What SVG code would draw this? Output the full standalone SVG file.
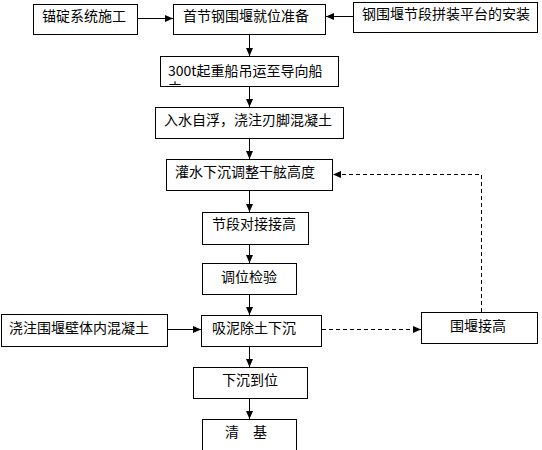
<svg xmlns="http://www.w3.org/2000/svg" width="542" height="450" viewBox="0 0 542 450">
<style>
.box{fill:#fff;stroke:#000;stroke-width:1}
.t{font-family:"Noto Sans CJK SC","Liberation Sans",sans-serif;font-size:14px;fill:#000}
.c{stroke:#000;stroke-width:1;fill:none}
.d{stroke:#000;stroke-width:1;fill:none;stroke-dasharray:4,3}
</style>
<defs>
<marker id="ah" viewBox="0 0 8 8" refX="8" refY="4" markerWidth="8" markerHeight="8" markerUnits="userSpaceOnUse" orient="auto">
<path d="M0,0.5 L8,4 L0,7.5 Z" fill="#000"/>
</marker>
<clipPath id="clip300"><rect x="160" y="56" width="178" height="29"/></clipPath>
</defs>
<rect width="542" height="450" fill="#fff"/>
<g id="n1"><rect class="box" x="33.5" y="4.5" width="104" height="30"/><text class="t" x="42" y="21">锚碇系统施工</text></g>
<g id="n2"><rect class="box" x="173.5" y="4.5" width="152" height="30"/><text class="t" x="183" y="21">首节钢围堰就位准备</text></g>
<g id="n3"><rect class="box" x="353.5" y="2.5" width="184" height="30"/><text class="t" x="362" y="19">钢围堰节段拼装平台的安装</text></g>
<g id="n4"><rect class="box" x="160.5" y="56.5" width="178" height="30"/><g clip-path="url(#clip300)"><text class="t" x="168" y="76">300t起重船吊运至导向船</text><text class="t" x="168" y="93">内</text></g></g>
<g id="n5"><rect class="box" x="155.5" y="107.5" width="188" height="31"/><text class="t" x="164" y="125">入水自浮，浇注刃脚混凝土</text></g>
<g id="n6"><rect class="box" x="166.5" y="159.5" width="166" height="31"/><text class="t" x="175" y="177">灌水下沉调整干舷高度</text></g>
<g id="n7"><rect class="box" x="202.5" y="212.5" width="106" height="32"/><text class="t" x="212" y="229">节段对接接高</text></g>
<g id="n8"><rect class="box" x="202.5" y="263.5" width="94" height="31"/><text class="t" x="221" y="282">调位检验</text></g>
<g id="n9"><rect class="box" x="1.5" y="314.5" width="166" height="32"/><text class="t" x="9" y="333">浇注围堰壁体内混凝土</text></g>
<g id="n10"><rect class="box" x="201.5" y="315.5" width="120" height="31"/><text class="t" x="212" y="333">吸泥除土下沉</text></g>
<g id="n11"><rect class="box" x="421.5" y="312.5" width="116" height="31"/><text class="t" x="450" y="331">围堰接高</text></g>
<g id="n12"><rect class="box" x="193.5" y="367.5" width="114" height="31"/><text class="t" x="222" y="385">下沉到位</text></g>
<g id="n13"><rect class="box" x="202.5" y="419.5" width="94" height="40"/><text class="t" x="225" y="437">清　基</text></g>
<g id="connectors">
<line class="c" x1="138" y1="18.5" x2="173" y2="18.5" marker-end="url(#ah)"/>
<line class="c" x1="353" y1="16.5" x2="326" y2="16.5" marker-end="url(#ah)"/>
<line class="c" x1="249.5" y1="35" x2="249.5" y2="56" marker-end="url(#ah)"/>
<line class="c" x1="249.5" y1="87" x2="249.5" y2="107" marker-end="url(#ah)"/>
<line class="c" x1="249.5" y1="139" x2="249.5" y2="159" marker-end="url(#ah)"/>
<line class="c" x1="249.5" y1="191" x2="249.5" y2="212" marker-end="url(#ah)"/>
<line class="c" x1="249.5" y1="245" x2="249.5" y2="263" marker-end="url(#ah)"/>
<line class="c" x1="249.5" y1="295" x2="249.5" y2="315" marker-end="url(#ah)"/>
<line class="c" x1="168" y1="329.5" x2="201" y2="329.5" marker-end="url(#ah)"/>
<line class="c" x1="249.5" y1="347" x2="249.5" y2="367" marker-end="url(#ah)"/>
<line class="c" x1="249.5" y1="399" x2="249.5" y2="419" marker-end="url(#ah)"/>
<line class="d" x1="322" y1="329.5" x2="421" y2="329.5" marker-end="url(#ah)"/>
<polyline class="d" points="481.5,312 481.5,174.5 333,174.5" marker-end="url(#ah)"/>
</g>
</svg>
